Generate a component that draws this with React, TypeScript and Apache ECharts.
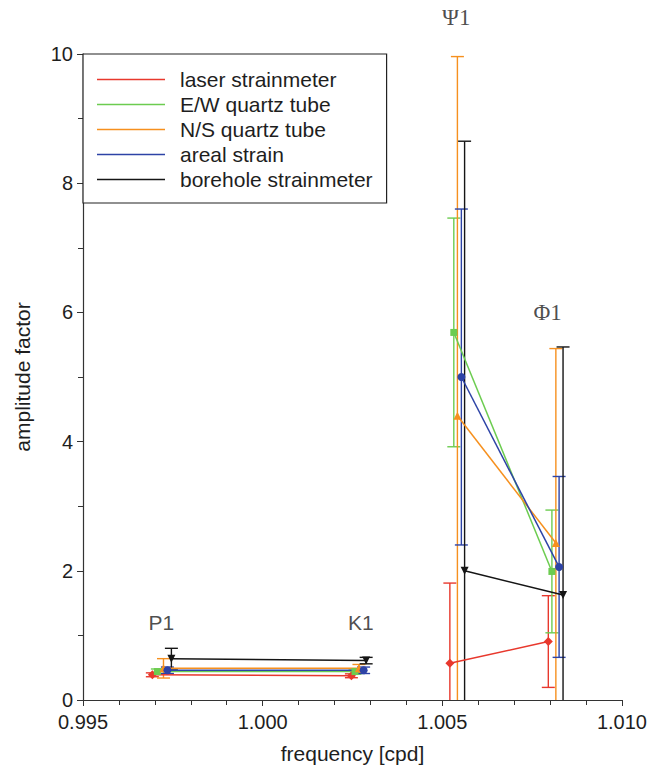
import React, { useEffect, useRef } from 'react';
import * as echarts from 'echarts';

const INSTRUMENTS = ['laser strainmeter', 'E/W quartz tube', 'N/S quartz tube', 'areal strain', 'borehole strainmeter'];
const COLORS = ['#e8382d', '#6ccc50', '#f6901e', '#2d43a6', '#151515'];
const SYMBOLS = ['diamond', 'rect', 'triangle', 'circle', 'triangle'];
const SYMBOL_ROTATE = [0, 0, 0, 0, 180];
const SYMBOL_SIZES = [9, 7, 8, 8, 8];

const WAVES = ['P1', 'K1', 'Ψ1', 'Φ1'];
const WAVE_LABEL_FREQ = [0.99718, 1.00273, 1.00539, 1.00793];
const WAVE_LABEL_AMP = [1.2, 1.2, 10.56, 6.0];
const WAVE_LABEL_FONT = ['Liberation Sans', 'Liberation Sans', 'Liberation Serif', 'Liberation Serif'];

const FREQ_LASER = [0.99693, 1.00247, 1.00521, 1.00795];
const AMP_LASER = [0.39, 0.375, 0.57, 0.905];
const ERR_LASER = [0.03, 0.03, 1.24, 0.71];

const FREQ_EW = [0.99707, 1.00257, 1.00532, 1.00805];
const AMP_EW = [0.44, 0.44, 5.69, 1.99];
const ERR_EW = [0.04, 0.04, 1.77, 0.95];

const FREQ_NS = [0.99724, 1.00268, 1.00542, 1.00816];
const AMP_NS = [0.49, 0.49, 4.4, 2.43];
const ERR_NS = [0.15, 0.06, 5.56, 3.01];

const FREQ_AREAL = [0.99735, 1.00281, 1.00553, 1.00825];
const AMP_AREAL = [0.46, 0.46, 5.0, 2.06];
const ERR_AREAL = [0.05, 0.05, 2.6, 1.4];

const FREQ_BORE = [0.99746, 1.00288, 1.00562, 1.00836];
const AMP_BORE = [0.64, 0.61, 2.0, 1.625];
const ERR_BORE = [0.16, 0.05, 6.65, 3.84];

const FREQS = [FREQ_LASER, FREQ_EW, FREQ_NS, FREQ_AREAL, FREQ_BORE];
const AMPS = [AMP_LASER, AMP_EW, AMP_NS, AMP_AREAL, AMP_BORE];
const ERRS = [ERR_LASER, ERR_EW, ERR_NS, ERR_AREAL, ERR_BORE];

const X_MIN = 0.995;
const X_MAX = 1.01;
const X_INTERVAL = 0.005;
const Y_MIN = 0;
const Y_MAX = 10;
const Y_INTERVAL = 2;

const SANS = 'Liberation Sans, Arial, sans-serif';
const TEXT_COLOR = '#1e1e1e';

export default function App() {
  const ref = useRef<HTMLDivElement>(null);
  useEffect(() => {
    if (!ref.current) return;
    const chart = echarts.init(ref.current, null, { renderer: 'svg' });
    const series: any[] = [];

    INSTRUMENTS.forEach((name, i) => {
      const color = COLORS[i];
      // two line segments: P1-K1 and Ψ1-Φ1
      [[0, 1], [2, 3]].forEach((idx) => {
        series.push({
          type: 'line',
          name,
          z: 3,
          color,
          symbol: SYMBOLS[i],
          symbolRotate: SYMBOL_ROTATE[i],
          symbolSize: SYMBOL_SIZES[i],
          lineStyle: { color, width: 1.5 },
          itemStyle: { color },
          data: idx.map((k) => [FREQS[i][k], AMPS[i][k]]),
        });
      });
      // error bars
      series.push({
        type: 'custom',
        name,
        silent: true,
        z: 2,
        color,
        itemStyle: { color },
        data: FREQS[i].map((f, k) => [f, AMPS[i][k], ERRS[i][k]]),
        renderItem: (params: any, api: any) => {
          const x = api.value(0);
          const y = api.value(1);
          const e = api.value(2);
          const lo = Math.max(y - e, Y_MIN);
          const hi = Math.min(y + e, Y_MAX);
          const pLo = api.coord([x, lo]);
          const pHi = api.coord([x, hi]);
          const hw = 6.5;
          const style = { stroke: color, lineWidth: 1.4 };
          const children: any[] = [
            { type: 'line', shape: { x1: pLo[0], y1: pLo[1], x2: pHi[0], y2: pHi[1] }, style },
          ];
          if (y - e >= Y_MIN) {
            children.push({ type: 'line', shape: { x1: pLo[0] - hw, y1: pLo[1], x2: pLo[0] + hw, y2: pLo[1] }, style });
          }
          if (y + e <= Y_MAX) {
            children.push({ type: 'line', shape: { x1: pHi[0] - hw, y1: pHi[1], x2: pHi[0] + hw, y2: pHi[1] }, style });
          }
          return { type: 'group', children };
        },
      });
    });

    series.push({
      type: 'scatter',
      name: 'wave labels',
      symbolSize: 0,
      clip: false,
      silent: true,
      z: 5,
      data: WAVES.map((w, k) => ({
        name: w,
        value: [WAVE_LABEL_FREQ[k], WAVE_LABEL_AMP[k]],
        label: {
          show: true,
          position: 'inside',
          formatter: w,
          fontFamily: WAVE_LABEL_FONT[k],
          fontSize: k < 2 ? 21 : 23,
          color: TEXT_COLOR,
        },
      })),
    });

    chart.setOption({
      animation: false,
      backgroundColor: '#ffffff',
      textStyle: { fontFamily: SANS },
      grid: { left: 83, right: 24, top: 54, bottom: 67, containLabel: false },
      legend: {
        data: INSTRUMENTS.map((n, i) => ({
          name: n,
          itemStyle: { color: COLORS[i], borderWidth: 0 },
        })),
        orient: 'vertical',
        left: 83,
        top: 54,
        icon: 'rect',
        itemWidth: 68,
        itemHeight: 1.5,
        itemGap: 4,
        padding: [15, 14, 13, 14],
        borderColor: '#222',
        borderWidth: 1.2,
        backgroundColor: '#ffffff',
        selectedMode: false,
        textStyle: { fontFamily: SANS, fontSize: 21, color: TEXT_COLOR, lineHeight: 21, padding: [0, 0, 0, 10] },
      },
      xAxis: {
        type: 'value',
        min: X_MIN,
        max: X_MAX,
        interval: X_INTERVAL,
        name: 'frequency [cpd]',
        nameLocation: 'middle',
        nameGap: 43,
        nameTextStyle: { fontFamily: SANS, fontSize: 21, color: TEXT_COLOR },
        axisLine: { lineStyle: { color: '#333', width: 1.2 } },
        axisTick: { show: true, inside: false, length: 6, lineStyle: { color: '#333' } },
        minorTick: { show: true, splitNumber: 5, length: 5, lineStyle: { color: '#333' } },
        axisLabel: {
          fontFamily: SANS,
          fontSize: 20,
          color: TEXT_COLOR,
          margin: 12,
          formatter: (v: number) => v.toFixed(3),
        },
        splitLine: { show: false },
      },
      yAxis: {
        type: 'value',
        min: Y_MIN,
        max: Y_MAX,
        interval: Y_INTERVAL,
        name: 'amplitude factor',
        nameLocation: 'middle',
        nameGap: 50,
        nameTextStyle: { fontFamily: SANS, fontSize: 21, color: TEXT_COLOR },
        axisLine: { show: true, lineStyle: { color: '#333', width: 1.2 } },
        axisTick: { show: true, inside: false, length: 6, lineStyle: { color: '#333' } },
        minorTick: { show: true, splitNumber: 2, length: 5, lineStyle: { color: '#333' } },
        axisLabel: { fontFamily: SANS, fontSize: 20, color: TEXT_COLOR, margin: 10 },
        splitLine: { show: false },
      },
      series,
    });
    return () => chart.dispose();
  }, []);
  return <div ref={ref} style={{ position: 'fixed', left: 0, top: 0, width: 650, height: 769 }} />;
}
